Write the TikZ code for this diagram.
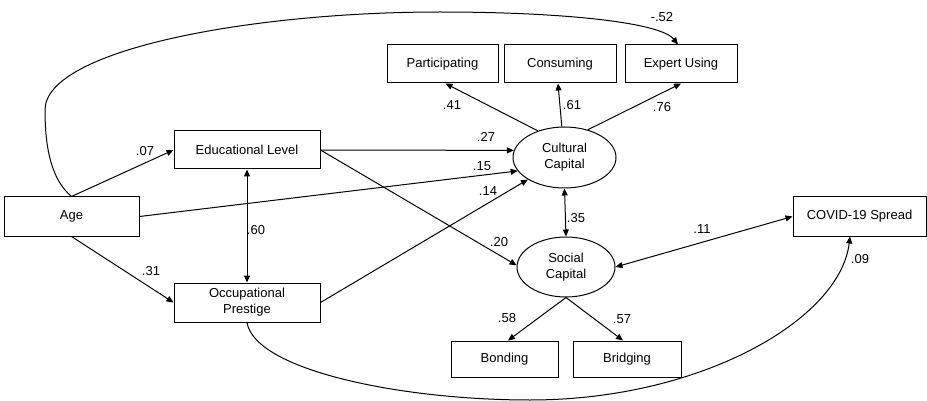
\documentclass[tikz,border=0pt]{standalone}
\usepackage{fontspec}
\setmainfont{Liberation Sans}
\usetikzlibrary{arrows.meta,shapes.geometric,calc}
\begin{document}
\begin{tikzpicture}[x=1pt,y=-1pt,
  every node/.style={font=\fontsize{13}{16}\selectfont},
  box/.style={draw,line width=1pt,rectangle,inner sep=0pt,align=center},
  latent/.style={draw,line width=1pt,ellipse,inner sep=0pt,align=center},
  conn/.style={line width=1pt,-{Triangle[length=7pt,width=6pt]}},
  bicon/.style={line width=1pt,{Triangle[length=7pt,width=6pt]}-{Triangle[length=7pt,width=6pt]}},
  lbl/.style={inner sep=0pt}]
\useasboundingbox (0,0) rectangle (927,401);
% nodes
\node[box,minimum width=135pt,minimum height=39pt] (age) at (71.5,216.5) {Age};
\node[box,minimum width=146pt,minimum height=38pt] (edu) at (247,150) {Educational Level};
\node[box,minimum width=146pt,minimum height=39pt] (occ) at (247,302.5) {Occupational\\Prestige};
\node[box,minimum width=111pt,minimum height=38pt] (part) at (442.5,64) {Participating};
\node[box,minimum width=112pt,minimum height=38pt] (cons) at (560,64) {Consuming};
\node[box,minimum width=112pt,minimum height=38pt] (exp) at (681,64) {Expert Using};
\node[latent,minimum width=103pt,minimum height=61pt] (cult) at (564.5,157.5) {Cultural\\Capital};
\node[latent,minimum width=98pt,minimum height=60pt] (soc) at (566,267) {Social\\Capital};
\node[box,minimum width=133pt,minimum height=39pt] (covid) at (859.5,216.5) {COVID-19 Spread};
\node[box,minimum width=107pt,minimum height=36pt] (bond) at (504.5,359) {Bonding};
\node[box,minimum width=108pt,minimum height=36pt] (bridge) at (627,359) {Bridging};
% connectors
\draw[conn] (age.north) -- (edu.west);
\draw[conn] (age.south) -- (occ.west);
\draw[conn] (age.east) -- (cult.196);
\draw[conn] (edu.east) -- (cult.172);
\draw[conn] (edu.east) -- (soc.178);
\draw[conn] (occ.east) -- (cult.211);
\draw[bicon] (edu.south) -- (occ.north);
\draw[bicon] (cult.south) -- (soc.north);
\draw[bicon] (soc.east) -- (covid.west);
\draw[conn] (cult.135) -- ($(part.south)+(3,0)$);
\draw[conn] (cult.95) -- ($(cons.south)+(-2,0)$);
\draw[conn] (cult.50) -- (exp.south);
\draw[conn] (soc.south) -- ($(bond.north)+(3.5,0)$);
\draw[conn] (soc.south) -- ($(bridge.north)+(-4,0)$);
\draw[conn] (age.north) .. controls (52,180) and (45,150) .. (45,110)
  .. controls (45,50) and (250,12) .. (440,12)
  .. controls (560,12) and (660,22) .. ($(exp.north)+(-3,0)$);
\draw[conn] (occ.south) .. controls (255,370) and (400,400) .. (530,400)
  .. controls (700,400) and (840,320) .. ($(covid.south)+(-9.5,0)$);
% labels
\node[lbl] (l07) at (145,151) {.07};
\node[lbl] (l31) at (151,271) {.31};
\node[lbl] (l15) at (482,166) {.15};
\node[lbl] (l27) at (486,137) {.27};
\node[lbl] (l20) at (499,242) {.20};
\node[lbl] (l14) at (488,191) {.14};
\node[lbl] (l60) at (256,230) {.60};
\node[lbl] (l35) at (576,218) {.35};
\node[lbl] (l11) at (702,229) {.11};
\node[lbl] (l41) at (452,105) {.41};
\node[lbl] (l61) at (572,105) {.61};
\node[lbl] (l76) at (662,107) {.76};
\node[lbl] (l58) at (507,318) {.58};
\node[lbl] (l57) at (622,319) {.57};
\node[lbl] (l52) at (662,17) {-.52};
\node[lbl] (l09) at (860,259) {.09};
\end{tikzpicture}
\end{document}
